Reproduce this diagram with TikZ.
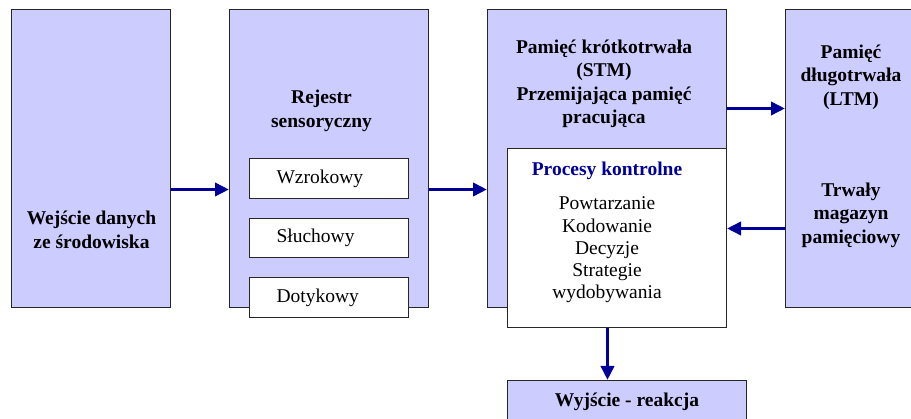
\documentclass[tikz,border=0pt]{standalone}
\usepackage{fontspec}
\setmainfont{Liberation Serif}
\usetikzlibrary{arrows.meta,calc}

\definecolor{lawenda}{HTML}{CCCCFF}
\definecolor{granat}{HTML}{000099}

\tikzset{
  blok/.style={draw=black!85, line width=1pt, fill=lawenda, anchor=north west, inner sep=0pt},
  bialy/.style={blok, fill=white},
  zmysl/.style={bialy, minimum width=159pt, text width=105pt, inner xsep=27pt, align=left},
  napis/.style={font=\fontsize{19.5}{23.5}\selectfont\bfseries, align=center, inner sep=0pt},
  lista/.style={font=\fontsize{19.5}{22.3}\selectfont, align=center, inner sep=0pt},
  strz/.style={draw=granat, line width=3.5pt, -{Triangle[length=14pt,width=13pt]}}
}

\begin{document}
\begin{tikzpicture}[x=1pt, y=-1pt, font=\fontsize{19.5}{22}\selectfont]
        \useasboundingbox (0,0) rectangle (911,419);

        % bloki glowne
        \node[blok, minimum width=159pt, minimum height=298pt] (wej) at (11,9) {};
        \node[blok, minimum width=199pt, minimum height=298pt] (rej) at (229,9) {};
        \node[blok, minimum width=239pt, minimum height=298pt] (stm) at (487,9) {};
        \node[blok, minimum width=127pt, minimum height=298pt] (ltm) at (785,9) {};

        % rejestr sensoryczny
        \node[zmysl, minimum height=40pt] (wzr) at (249,158) {Wzrokowy};
        \node[zmysl, minimum height=39pt] (slu) at (249,218) {Słuchowy};
        \node[zmysl, minimum height=40pt] (dot) at (249,277) {Dotykowy};

        % procesy kontrolne i wyjscie
        \node[bialy, minimum width=219pt, minimum height=179pt] (proc) at (507,148) {};
        \node[blok, minimum width=239pt, minimum height=42pt, font=\fontsize{19.5}{22}\selectfont\bfseries] (wyj) at (507,380) {Wyjście - reakcja};

        % napisy
        \node[napis] (t-wej) at (91.5,230) {Wejście danych\\ze środowiska};
        \node[napis] (t-rej) at (321.5,111) {Rejestr\\sensoryczny};
        \node[napis] (t-stm) at (604,84) {Pamięć krótkotrwała\\(STM)\\Przemijająca pamięć\\pracująca};
        \node[napis] (t-ltm) at (851,77) {Pamięć\\długotrwała\\(LTM)};
        \node[napis] (t-mag) at (851,215) {Trwały\\magazyn\\pamięciowy};
        \node[napis, text=granat, anchor=base] (t-proc) at (607,176) {Procesy kontrolne};
        \node[lista] (t-lista) at (607,250) {Powtarzanie\\Kodowanie\\Decyzje\\Strategie\\wydobywania};

        % strzalki
        \draw[strz] ([yshift=-31pt]wej.east) -- ([yshift=-31pt]rej.west);
        \draw[strz] ([yshift=-31pt]rej.east) -- ([yshift=-31pt]stm.west);
        \draw[strz] ([yshift=50pt]stm.east) -- ([yshift=50pt]ltm.west);
        \draw[strz] ([yshift=-70pt]ltm.west) coordinate (z) -- (z -| proc.east);
        \draw[strz] ([xshift=-9.5pt]proc.south) coordinate (d) -- (d |- wyj.north);
    \end{tikzpicture}
\end{document}
